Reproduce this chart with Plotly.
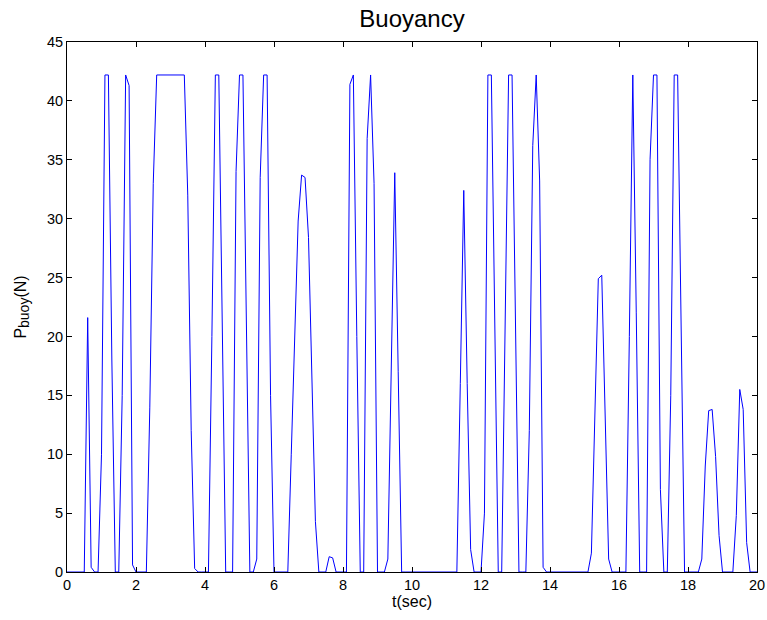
import plotly.graph_objects as go

# Sampling step of the simulation output (seconds)
dt = 0.1

# Buoyancy force P_buoy (N), one row per second of simulated time
p_buoy = [
    0, 0, 0, 0, 0, 0, 21.6, 0.4, 0, 0,                      # 0 s
    10, 42.2, 42.2, 18, 0, 0, 15, 42.2, 41.3, 0.6,          # 1 s
    0, 0, 0, 0, 14, 33, 42.2, 42.2, 42.2, 42.2,             # 2 s
    42.2, 42.2, 42.2, 42.2, 42.2, 32, 12, 0.3, 0, 0,        # 3 s
    0, 0, 20, 42.2, 42.2, 20, 0, 0, 0, 34,                  # 4 s
    42.2, 42.2, 21, 0, 0, 1.1, 33.5, 42.2, 42.2, 15,        # 5 s
    0, 0, 0, 0, 0, 10, 20, 29.8, 33.7, 33.5,                # 6 s
    28.4, 15, 4.3, 0, 0, 0, 1.3, 1.2, 0, 0,                 # 7 s
    0, 0, 41.4, 42.2, 20, 0, 0, 36.8, 42.2, 33,             # 8 s
    0, 0, 0, 1.1, 17, 33.9, 17, 0, 0, 0,                    # 9 s
    0, 0, 0, 0, 0, 0, 0, 0, 0, 0,                           # 10 s
    0, 0, 0, 0, 16, 32.4, 16, 1.9, 0, 0,                    # 11 s
    0, 5, 42.2, 42.2, 20, 0, 0, 21, 42.2, 42.2,             # 12 s
    20, 0, 0, 0, 12, 36.2, 42.2, 33.2, 0.4, 0,              # 13 s
    0, 0, 0, 0, 0, 0, 0, 0, 0, 0,                           # 14 s
    0, 0, 1.6, 13, 24.9, 25.2, 13, 1.1, 0, 0,               # 15 s
    0, 0, 0, 20, 42.2, 22, 0, 0, 0, 35,                     # 16 s
    42.2, 42.2, 7, 0, 0, 15, 42.2, 42.2, 20, 0,             # 17 s
    0, 0, 0, 0, 1.1, 9, 13.7, 13.8, 9.8, 3.1,               # 18 s
    0, 0, 0, 0, 4.8, 15.5, 13.8, 2.5, 0, 0,                 # 19 s
    0,                                                      # 20 s
]

# Time stamps of the samples
t = [round(i * dt, 1) for i in range(len(p_buoy))]

x_ticks = [0, 2, 4, 6, 8, 10, 12, 14, 16, 18, 20]
y_ticks = [0, 5, 10, 15, 20, 25, 30, 35, 40, 45]

FONT = "Liberation Sans, Arial, sans-serif"

fig = go.Figure()
fig.add_trace(go.Scatter(
    x=t, y=p_buoy, mode="lines",
    line=dict(color="#0000ff", width=1),
    hoverinfo="x+y",
))

axis_common = dict(
    showline=True, linecolor="black", linewidth=1, mirror="allticks",
    ticks="inside", ticklen=5, tickcolor="black", tickwidth=1,
    showgrid=False, zeroline=False, automargin=False,
    tickfont=dict(family=FONT, size=14.5, color="black"),
)

fig.update_layout(
    width=767, height=620,
    margin=dict(l=67, r=10, t=42, b=48, autoexpand=False),
    paper_bgcolor="white", plot_bgcolor="white",
    showlegend=False,
    title=dict(
        text="Buoyancy",
        font=dict(family=FONT, size=24, color="black"),
        x=0.5, xref="paper", xanchor="center",
        y=1 - 19 / 620, yref="container", yanchor="middle",
    ),
    xaxis=dict(
        range=[0, 20], tickvals=x_ticks,
        title=dict(text="t(sec)", standoff=2,
                   font=dict(family=FONT, size=16, color="black")),
        **axis_common,
    ),
    yaxis=dict(
        range=[0, 45], tickvals=y_ticks,
        title=dict(text="P<sub><span style=\"font-size:14px\">buoy</span></sub>(N)", standoff=16,
                   font=dict(family=FONT, size=16, color="black")),
        **axis_common,
    ),
)

fig.write_html("out.html")
